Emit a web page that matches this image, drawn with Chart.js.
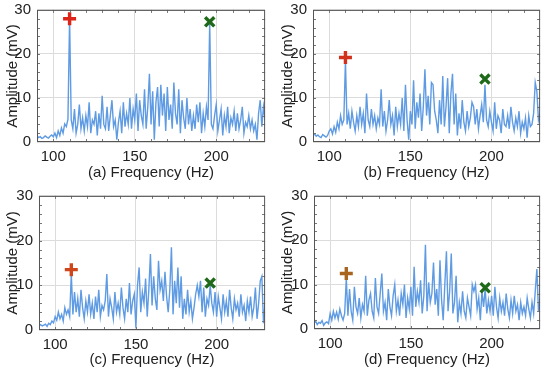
<!DOCTYPE html>
<html lang="en">
<head>
<meta charset="UTF-8">
<title>Amplitude spectra</title>
<script src="https://cdn.jsdelivr.net/npm/chart.js"></script>
<style>
  body { margin: 0; background: #fff; }
  .panel { position: absolute; }
</style>
</head>
<body>
<div class="panel" style="left:0;top:0"><canvas id="ca" width="275" height="186"></canvas></div>
<div class="panel" style="left:275px;top:0"><canvas id="cb" width="275" height="186"></canvas></div>
<div class="panel" style="left:0;top:186px"><canvas id="cc" width="275" height="187"></canvas></div>
<div class="panel" style="left:275px;top:186px"><canvas id="cd" width="275" height="187"></canvas></div>
<script>
// Frequency axis: 90..230 Hz, 1 Hz bins
const freqStart = 90;
const freqEnd = 230;

// Amplitude (mV) per 1 Hz bin
const ampA = [
  1.5,1.0,1.2,0.8,1.0,1.4,1.1,0.9,1.3,1.6,
  1.2,2.0,1.0,2.5,1.5,3.2,2.0,4.1,3.5,5.2,
  28.0,5.0,3.0,7.5,2.0,4.0,8.5,3.0,5.5,2.5,
  6.0,3.5,9.0,2.0,5.0,4.0,7.0,1.5,6.5,3.0,
  10.5,4.0,3.0,8.0,2.5,6.0,9.5,3.5,5.0,0.5,
  4.5,7.0,2.0,9.0,3.5,6.5,4.0,10.0,3.0,7.5,
  5.0,11.0,2.5,9.5,6.0,4.0,12.0,3.0,8.0,15.5,
  4.0,11.5,0.5,9.0,12.5,3.5,13.0,6.0,11.0,2.5,
  12.5,5.0,8.5,3.0,13.5,6.5,4.0,12.0,2.0,9.5,
  5.5,3.0,10.0,4.0,7.5,2.5,6.0,3.0,8.5,4.5,
  9.0,2.0,6.5,3.5,8.0,5.0,27.0,4.0,3.0,6.0,
  8.5,2.5,5.0,7.5,1.5,6.0,3.5,8.0,2.0,5.5,
  4.0,7.0,2.5,6.5,3.0,5.0,8.0,2.0,4.5,3.5,
  6.0,3.0,5.0,2.5,4.0,0.5,6.5,9.5,3.5,8.0,
  5.0
];
const ampB = [
  1.5,1.8,1.3,1.6,1.2,1.0,1.7,1.4,1.1,1.5,
  2.5,3.0,1.8,3.5,2.2,4.5,3.0,6.0,4.0,5.0,
  18.5,4.0,6.5,3.0,7.0,4.5,2.5,6.0,3.5,8.0,
  4.0,6.5,2.0,11.0,5.0,3.5,7.5,4.0,6.0,3.0,
  5.5,4.0,12.0,3.5,7.0,2.5,5.0,9.5,4.0,6.0,
  1.5,8.0,3.5,6.5,4.0,10.0,2.5,13.0,5.0,0.5,
  7.0,4.0,14.0,3.0,9.0,5.5,11.0,2.5,8.0,16.5,
  6.0,10.5,4.0,13.5,13.0,7.0,5.0,2.0,9.5,4.0,
  15.0,3.5,8.0,14.5,2.0,11.0,15.5,4.0,11.0,1.5,
  6.5,3.0,9.5,4.5,2.5,7.0,3.5,5.5,9.0,8.0,
  4.0,7.5,3.0,6.0,8.5,4.5,13.0,5.0,3.5,7.0,
  4.5,2.5,9.0,3.0,6.0,5.0,2.0,7.5,4.0,3.5,
  6.0,3.0,8.0,4.5,2.5,5.5,3.5,7.0,2.0,4.5,
  3.0,5.5,1.0,6.0,3.5,4.0,6.5,13.5,11.5,5.0,
  6.5
];
const ampC = [
  1.0,1.2,0.9,1.1,1.3,0.8,1.5,1.2,2.0,1.6,
  3.0,2.2,4.0,2.5,3.5,2.0,5.0,3.5,4.5,3.0,
  12.5,3.5,8.5,4.0,7.0,3.0,9.0,5.0,2.5,6.5,
  4.0,8.0,3.5,6.0,2.5,7.5,4.0,9.0,3.0,5.5,
  4.5,6.5,12.5,3.0,7.0,5.0,2.5,8.5,4.0,6.0,
  3.5,9.5,5.0,2.5,7.0,4.0,10.5,3.5,6.5,8.0,
  0.5,10.0,14.0,4.0,8.5,6.0,11.5,3.0,9.0,17.0,
  5.5,12.0,7.0,4.5,15.5,9.0,11.0,6.5,13.0,7.5,
  4.0,9.0,18.5,3.5,11.0,6.0,14.0,5.0,12.0,2.5,
  7.0,3.5,9.0,4.0,6.5,2.5,5.0,8.0,10.0,7.5,
  11.0,4.0,9.5,3.0,7.0,5.5,10.0,6.0,4.0,8.5,
  3.0,7.5,5.0,2.5,8.0,4.0,6.5,3.0,9.0,5.0,
  2.5,7.0,4.5,6.0,3.0,8.0,4.0,5.5,2.0,6.5,
  4.0,7.5,3.0,5.0,9.5,2.5,6.0,11.0,12.0,1.5,
  6.0
];
const ampD = [
  1.2,1.8,1.0,1.5,1.3,1.9,0.8,1.4,1.6,1.2,
  3.5,2.0,4.0,2.5,3.8,2.2,4.5,3.0,2.0,3.5,
  11.5,3.0,9.0,4.0,2.0,9.5,5.0,3.5,7.0,2.5,
  5.5,4.0,12.0,3.0,6.5,8.0,4.0,2.5,11.5,5.0,
  3.5,8.0,12.5,4.0,6.0,2.0,9.0,5.0,3.0,7.5,
  10.0,4.0,6.5,3.0,8.0,5.5,10.0,2.5,7.0,4.5,
  9.5,3.0,14.0,5.0,8.5,6.0,11.0,3.5,7.5,19.0,
  4.0,10.5,6.0,8.0,15.0,5.5,9.0,3.0,15.5,6.5,
  2.0,10.0,17.5,4.0,8.5,17.0,3.5,6.0,12.0,1.5,
  6.0,3.5,8.5,4.0,2.5,7.0,5.0,3.0,10.0,8.5,
  10.0,4.5,7.0,2.0,8.5,5.0,9.0,3.5,6.5,4.0,
  7.5,3.0,9.5,5.0,2.5,7.0,4.0,6.0,3.0,8.0,
  4.5,2.5,6.5,3.5,7.5,4.0,5.5,2.0,6.0,3.5,
  5.0,3.0,7.0,4.5,2.5,6.0,3.5,8.5,13.5,4.0,
  7.0
];

// Marked peaks
const plusFreq = 110;
const crossFreq = 196;
const plusAmp = [28.0, 19.2, 13.5, 12.5];
const crossAmp = [27.3, 14.3, 10.5, 9.3];
const plusColors = ['#dd2418', '#d0321c', '#cf461c', '#a9651f'];

const panelLetters = ['a', 'b', 'c', 'd'];
const xTicks = [100, 150, 200];
const yMax = 30;

// chart area edges of each panel (px inside its canvas)
const boxes = [
  { id: 'ca', left: 37, right: 267, top: 7, bottom: 142, amp: ampA },
  { id: 'cb', left: 38, right: 269, top: 8, bottom: 142, amp: ampB },
  { id: 'cc', left: 39, right: 268, top: 7, bottom: 144, amp: ampC },
  { id: 'cd', left: 39, right: 271, top: 7, bottom: 143, amp: ampD }
];

const FONT = '"Liberation Sans", Arial, sans-serif';

// short inward tick marks on the frame
const innerTicks = {
  id: 'innerTicks',
  afterDraw(chart) {
    const { ctx, chartArea: a, scales } = chart;
    ctx.save();
    ctx.strokeStyle = '#777';
    ctx.lineWidth = 1;
    ctx.beginPath();
    for (let f = 100; f <= 220; f += 10) {
      const px = Math.round(scales.x.getPixelForValue(f)) + 0.5;
      ctx.moveTo(px, a.bottom); ctx.lineTo(px, a.bottom - 3);
      ctx.moveTo(px, a.top); ctx.lineTo(px, a.top + 3);
    }
    for (let v = 2; v < 30; v += 2) {
      const py = Math.round(scales.y.getPixelForValue(v)) + 0.5;
      ctx.moveTo(a.left, py); ctx.lineTo(a.left + 3, py);
      ctx.moveTo(a.right, py); ctx.lineTo(a.right - 3, py);
    }
    ctx.stroke();
    ctx.strokeStyle = '#555';
    ctx.strokeRect(a.left + 0.5, a.top + 0.5, a.right - a.left - 1, a.bottom - a.top - 1);
    ctx.restore();
  }
};

boxes.forEach((b, i) => {
  const canvas = document.getElementById(b.id);
  const W = canvas.width, H = canvas.height;
  const points = b.amp.map((v, k) => ({ x: freqStart + k, y: v }));

  new Chart(canvas, {
    type: 'scatter',
    data: {
      datasets: [
        {
          type: 'line',
          data: points,
          borderColor: '#5f9be3',
          borderWidth: 1.4,
          pointRadius: 0,
          tension: 0,
          order: 3
        },
        {
          data: [{ x: plusFreq, y: plusAmp[i] }],
          pointStyle: 'cross',
          pointRadius: 6.5,
          borderWidth: 3.4,
          borderColor: plusColors[i],
          backgroundColor: plusColors[i],
          order: 1
        },
        {
          data: [{ x: crossFreq, y: crossAmp[i] }],
          pointStyle: 'crossRot',
          pointRadius: 6.5,
          borderWidth: 3.4,
          borderColor: '#1f6a1a',
          backgroundColor: '#1f6a1a',
          order: 1
        }
      ]
    },
    options: {
      responsive: false,
      animation: false,
      layout: { padding: { left: 0, right: W - b.right, top: b.top, bottom: 0 } },
      plugins: { legend: { display: false }, tooltip: { enabled: false } },
      scales: {
        x: {
          type: 'linear',
          min: freqStart,
          max: freqEnd,
          afterBuildTicks: s => { s.ticks = xTicks.map(v => ({ value: v })); },
          afterFit: s => { s.height = H - b.bottom; s.paddingLeft = 0; s.paddingRight = 0; },
          grid: { color: '#dcdcdc', drawTicks: false },
          border: { display: false },
          ticks: { padding: 6, color: '#222', font: { family: FONT, size: 15 } },
          title: {
            display: true,
            text: '(' + panelLetters[i] + ') Frequency (Hz)',
            color: '#222',
            font: { family: FONT, size: 15 },
            padding: { top: 2 }
          }
        },
        y: {
          min: 0,
          max: yMax,
          ticks: { stepSize: 10, padding: 6, color: '#222', font: { family: FONT, size: 15 } },
          afterFit: s => { s.width = b.left; s.paddingTop = 0; s.paddingBottom = 0; },
          grid: { color: '#dcdcdc', drawTicks: false },
          border: { display: false },
          title: {
            display: true,
            text: 'Amplitude (mV)',
            color: '#222',
            font: { family: FONT, size: 15 },
            padding: { bottom: 0 }
          }
        }
      }
    },
    plugins: [innerTicks]
  });
});
</script>
</body>
</html>
